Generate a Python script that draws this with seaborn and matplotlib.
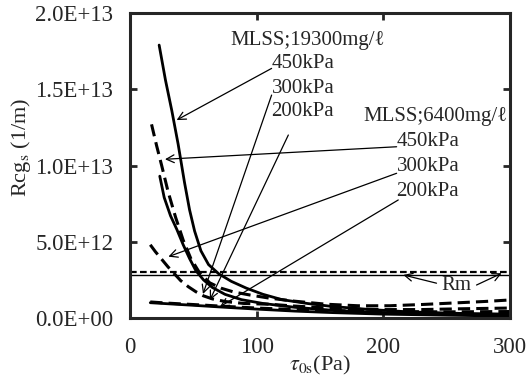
import numpy as np
import matplotlib
matplotlib.use("Agg")
import matplotlib.pyplot as plt
from matplotlib.ticker import FuncFormatter
import seaborn as sns

# values, y in units of 1E12 (1/m)
# MLSS 19300 mg/l (solid)
x_19300_450 = [23, 28, 33, 38, 43, 47, 51, 56, 62, 70, 80, 92, 105, 120, 140, 160, 190, 220, 260, 300]
y_19300_450 = [17.9, 15.6, 13.6, 11.4, 8.9, 7.1, 5.7, 4.4, 3.5, 2.9, 2.4, 1.95, 1.55, 1.2, 0.95, 0.75, 0.55, 0.4, 0.3, 0.25]
x_19300_300 = [23.5, 27, 32, 37, 42, 47, 52, 58, 65, 75, 88, 105, 130, 160, 200, 250, 300]
y_19300_300 = [9.3, 7.9, 6.7, 5.8, 4.8, 3.9, 3.1, 2.5, 2.0, 1.55, 1.2, 0.95, 0.7, 0.5, 0.35, 0.25, 0.2]
x_19300_200 = [16, 30, 50, 75, 100, 130, 160, 200, 250, 300]
y_19300_200 = [1.0, 0.93, 0.83, 0.7, 0.58, 0.45, 0.35, 0.25, 0.18, 0.12]

# MLSS 6400 mg/l (dashed)
x_6400_450 = [17, 21, 25, 30, 36, 42, 48, 55, 63, 72, 82, 95, 110, 130, 155, 180, 205, 230, 255, 280, 300]
y_6400_450 = [12.7, 11.3, 10.0, 8.3, 6.6, 5.1, 3.9, 2.95, 2.3, 1.95, 1.7, 1.5, 1.3, 1.1, 0.9, 0.8, 0.8, 0.88, 0.98, 1.08, 1.18]
x_6400_300 = [16, 20, 25, 30, 35, 40, 46, 52, 58, 65, 75, 90, 110, 130, 150, 175, 200, 230, 260, 300]
y_6400_300 = [4.8, 4.35, 3.85, 3.35, 2.9, 2.45, 2.05, 1.72, 1.45, 1.25, 1.08, 0.95, 0.9, 0.78, 0.68, 0.6, 0.55, 0.55, 0.6, 0.65]
x_6400_200 = [16, 30, 50, 75, 100, 130, 160, 200, 250, 300]
y_6400_200 = [1.05, 0.97, 0.88, 0.76, 0.65, 0.55, 0.48, 0.42, 0.4, 0.42]

rm_19300 = 2.8
rm_6400 = 3.0

x_ticks = [0, 100, 200, 300]
y_ticks = [0, 5, 10, 15, 20]

sns.set_style("ticks")
plt.rcParams['font.family'] = ['Liberation Serif', 'DejaVu Serif']
plt.rcParams['mathtext.fontset'] = 'stix'

E = 1e12
fig = plt.figure(figsize=(5.27, 3.84), dpi=100)
ax = fig.add_axes([0.2467, 0.172, 0.721, 0.794])

solid = [(x_19300_450, y_19300_450), (x_19300_300, y_19300_300), (x_19300_200, y_19300_200)]
dashed = [(x_6400_450, y_6400_450), (x_6400_300, y_6400_300), (x_6400_200, y_6400_200)]
for xs, ys in solid:
    sns.lineplot(x=xs, y=np.array(ys) * E, ax=ax, color='black', lw=2.0)
for xs, ys in dashed:
    sns.lineplot(x=xs, y=np.array(ys) * E, ax=ax, color='black', lw=2.2,
                 linestyle=(0, (4, 2)))

ax.axhline(rm_19300 * E, color='black', lw=1.0)
ax.axhline(rm_6400 * E, color='black', lw=1.6, linestyle=(0, (3, 1.5)))

ax.set_xlim(0, 300)
ax.set_ylim(0, 20 * E)
ax.set_xticks(x_ticks)
ax.set_yticks([v * E for v in y_ticks])
ax.yaxis.set_major_formatter(FuncFormatter(lambda v, p: f"{v:.1E}"))
ax.tick_params(direction='in', top=True, right=True, length=5, width=2,
               labelsize=16.5, pad=12)
ax.tick_params(axis='x', pad=14)
for s in ax.spines.values():
    s.set_linewidth(2.2)

ax.set_xlabel(r"$\tau_{\mathrm{0s}}$(Pa)", fontsize=16, labelpad=-3)
ax.set_ylabel(r"Rcg$_{\mathrm{s}}$ (1/m)", fontsize=16)
ax.yaxis.set_label_coords(-0.255, 0.56)

# labels and arrows
fs = 15
ax.text(79, 18.2 * E, "MLSS;19300mg/ℓ", fontsize=fs, va='center')
ax.text(111.8, 16.7 * E, "450kPa", fontsize=fs, va='center')
ax.text(111.8, 15.06 * E, "300kPa", fontsize=fs, va='center')
ax.text(111.8, 13.53 * E, "200kPa", fontsize=fs, va='center')
ax.text(184, 13.2 * E, "MLSS;6400mg/ℓ", fontsize=fs, va='center')
ax.text(210.5, 11.56 * E, "450kPa", fontsize=fs, va='center')
ax.text(210.5, 9.92 * E, "300kPa", fontsize=fs, va='center')
ax.text(210.5, 8.28 * E, "200kPa", fontsize=fs, va='center')
ax.text(246, 2.16 * E, "Rm", fontsize=fs, va='center')

arrows = [
    ((111.8, 16.37), (36.8, 12.98)),
    ((111.8, 14.62), (57.6, 1.57)),
    ((125, 12.0), (63.1, 1.18)),
    ((210.5, 11.23), (27.6, 10.41)),
    ((210.5, 9.49), (30.3, 4.02)),
    ((211.8, 7.74), (71, 0.74)),
    ((242, 2.28), (215.8, 2.82)),
    ((273.6, 2.16), (293.4, 2.93)),
]
for (x0, y0), (x1, y1) in arrows:
    ax.annotate("", xy=(x1, y1 * E), xytext=(x0, y0 * E),
                arrowprops=dict(arrowstyle='->', color='black', lw=0.9,
                                mutation_scale=14, shrinkA=0, shrinkB=0))

fig.savefig("out.png", dpi=100)
